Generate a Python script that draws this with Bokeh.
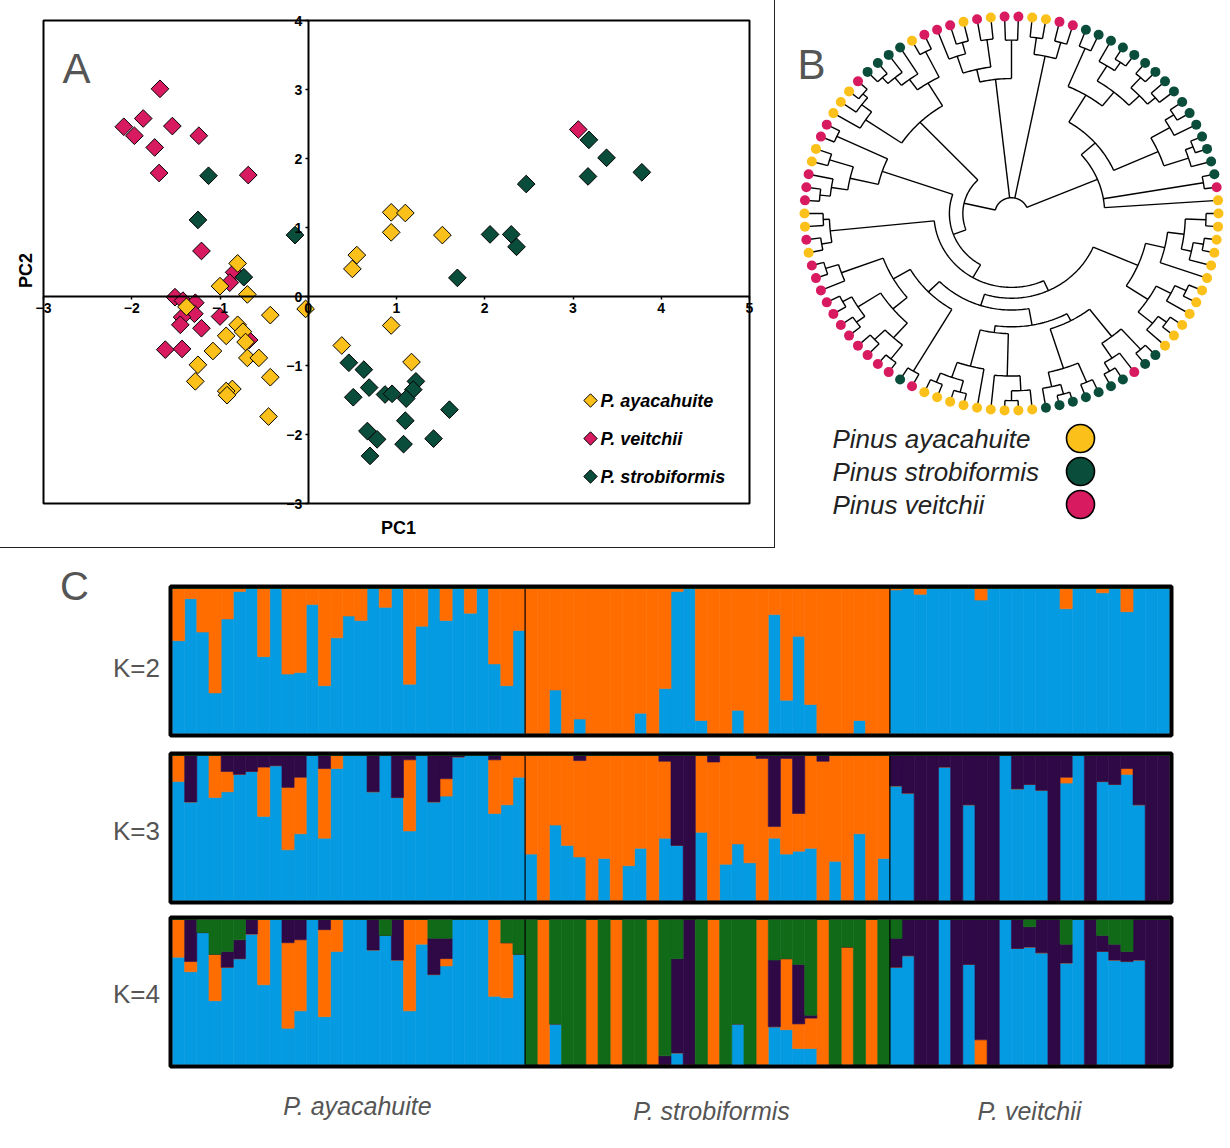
import numpy as np
from bokeh.plotting import figure
from bokeh.models import Range1d, LinearAxis, FixedTicker, Label, ColumnDataSource
from bokeh.layouts import column, row
from bokeh.embed import file_html
from bokeh.resources import INLINE

# ---------------- colours ----------------
YEL, PNK, DGR = "#FCC01A", "#D81B60", "#0B4D3B"
BLUE, ORNG, PURP, GRN = "#049BE3", "#FF6C00", "#2E0946", "#106A17"
GREY = "#555555"

# ---------------- panel A : PCA ----------------
SPECIES_A = ["P. ayacahuite", "P. veitchii", "P. strobiformis"]
AYA_X = [-0.80, -1.00, -0.69, -1.38, -0.43, -0.03, -0.80, -0.74, -0.93, -0.71, -1.08, -1.25, -0.69, -0.56, -0.43,
         -1.28, -0.86, -0.93, -0.92, -0.45, 0.94, 1.10, 0.94, 1.52, 0.55, 0.50, 0.94, 0.38, 1.17]
AYA_Y = [0.48, 0.15, 0.03, -0.15, -0.27, -0.18, -0.41, -0.51, -0.57, -0.66, -0.79, -0.99, -0.89, -0.89, -1.17,
         -1.23, -1.34, -1.37, -1.43, -1.74, 1.22, 1.21, 0.93, 0.89, 0.60, 0.40, -0.42, -0.71, -0.95]
VEI_X = [-1.68, -2.09, -1.87, -1.97, -1.54, -1.24, -1.74, -1.69, -0.68, -1.21, -0.84, -0.89, -1.51, -1.42, -1.28,
         -1.29, -1.43, -1.45, -1.00, -1.21, -0.67, -1.62, -1.43, 3.06]
VEI_Y = [3.01, 2.46, 2.58, 2.33, 2.47, 2.33, 2.16, 1.79, 1.76, 0.66, 0.35, 0.20, -0.01, -0.06, -0.09,
         -0.25, -0.30, -0.41, -0.29, -0.46, -0.63, -0.77, -0.76, 2.42]
STR_X = [-1.13, -1.25, -0.15, -0.73, 3.18, 3.38, 3.17, 3.78, 2.47, 2.06, 2.30, 2.36, 1.69, 0.46, 0.63,
         0.51, 0.69, 0.87, 0.95, 1.22, 1.19, 1.11, 1.60, 1.10, 0.67, 0.78, 1.42, 1.08, 0.70]
STR_Y = [1.75, 1.11, 0.89, 0.28, 2.27, 2.01, 1.74, 1.80, 1.63, 0.90, 0.90, 0.72, 0.27, -0.96, -1.06,
         -1.46, -1.32, -1.42, -1.41, -1.23, -1.35, -1.48, -1.64, -1.80, -1.95, -2.07, -2.06, -2.14, -2.31]
X_TICKS = [-3, -2, -1, 0, 1, 2, 3, 4, 5]
Y_TICKS = [-3, -2, -1, 0, 1, 2, 3, 4]

# ---------------- panel B : dendrogram ----------------
# species of leaves 1..94 in clockwise order (Y = ayacahuite, G = strobiformis, P = veitchii)
LEAF_SPECIES = ("YPPPYPYPPYYPP" "GGGGGGGGGGGGGGGG" "P" "YYYYYYYYYYYYY" "GGP" "GGGGGGG"
                "YYYYYYYYY" "PG" "PPPPPPPPPPP" "YPYYPPPYYPP" "YYYP" "GGGG")
# Newick topology; internal node labels = node radius
T1 = "(((3,(4,5)180)168,(6,7)178)150,(8,9)176)137"
T2 = "((10,11)180,(12,13)180)163"
RA = "((14,15)182,((16,(17,18)186)176,((19,20)186,(21,22)182)172)158)140"
RB = "(((23,24)186,25)176,((26,27)188,28)180)155"
RR = "((" + RA + "," + RB + ")108,(29,30)188,31)90"
BR = "((((32,33)188,((34,35)188,36)178)168,37)152,(((38,39)186,40)174,((41,42)186,43)176)158)133"
BG = "(((44,45)186,(46,(47,48)186)176)158,((49,50)186,((51,52)190,53)180)165)123"
BY = "(((54,(55,56)190)180,57)165,(58,((59,60)188,(61,62)186)176)160)122"
P2 = "(((65,66)188,(67,68)184)170,((69,70)186,(71,72)186)176)150"
P1 = "(73,(74,75)188)175"
PG = "((63,64)186,(" + P2 + "," + P1 + ")132)113"
LLB = "((76,77)186,(78,79)182)176"
LLA = "((((80,81)186,82)176,(83,84)184)160,(85,86)186)132"
TLA = "(87,(88,(89,90)188)182)170"
TLB = "((((91,92)186,93)178,94)168,(1,2)184)155"
TL = "(" + TLA + "," + TLB + ")128"
W = "((" + BG + "," + BY + ")115," + PG + ")98"
LEFT = "((((" + BR + "," + W + ")86," + LLB + ")75," + LLA + ")60," + TL + ")47"
TREE = "(" + LEFT + "," + T1 + "," + T2 + "," + RR + ")16"
SPECIES_B = ["Pinus ayacahuite", "Pinus strobiformis", "Pinus veitchii"]

# ---------------- panel C : STRUCTURE ----------------
K2_ORANGE_AYA = [0.36, 0.07, 0.30, 0.72, 0.21, 0.02, 0.00, 0.47, 0.00, 0.59, 0.58, 0.11, 0.67, 0.34, 0.19,
                 0.22, 0.00, 0.13, 0.00, 0.66, 0.26, 0.00, 0.22, 0.00, 0.17, 0.00, 0.52, 0.67, 0.29]
K2_ORANGE_STR = [1.00, 1.00, 0.70, 1.00, 0.90, 1.00, 1.00, 1.00, 1.00, 0.86, 1.00, 0.69, 0.02, 0.00, 0.91,
                 1.00, 1.00, 0.84, 1.00, 1.00, 0.18, 0.77, 0.33, 0.80, 1.00, 1.00, 1.00, 0.91, 1.00, 1.00]
K2_ORANGE_VEI = [0.01, 0.00, 0.04, 0.00, 0.00, 0.00, 0.00, 0.08, 0.00, 0.00, 0.00, 0.00, 0.00, 0.00, 0.14,
                 0.00, 0.00, 0.03, 0.00, 0.16, 0.00, 0.00, 0.00]

K3_ORANGE_AYA = [0.18, 0.00, 0.00, 0.29, 0.14, 0.00, 0.00, 0.34, 0.00, 0.43, 0.39, 0.00, 0.48, 0.09, 0.00,
                 0.00, 0.00, 0.00, 0.00, 0.49, 0.00, 0.00, 0.12, 0.00, 0.00, 0.00, 0.37, 0.34, 0.15]
K3_PURPLE_AYA = [0.00, 0.32, 0.00, 0.00, 0.11, 0.13, 0.11, 0.08, 0.07, 0.22, 0.15, 0.00, 0.09, 0.00, 0.00,
                 0.00, 0.25, 0.00, 0.29, 0.03, 0.00, 0.32, 0.16, 0.01, 0.00, 0.00, 0.03, 0.00, 0.00]
K3_ORANGE_STR = [0.68, 1.00, 0.48, 0.62, 0.665, 1.00, 0.71, 1.00, 0.76, 0.64, 1.00, 0.53, 0.00, 0.00, 0.53,
                 0.955, 0.75, 0.61, 0.74, 0.98, 0.08, 0.66, 0.26, 0.64, 0.96, 0.73, 1.00, 0.54, 1.00, 0.71]
K3_PURPLE_STR = [0.00, 0.00, 0.00, 0.00, 0.035, 0.00, 0.00, 0.00, 0.00, 0.00, 0.00, 0.04, 0.62, 1.00, 0.00,
                 0.045, 0.00, 0.00, 0.00, 0.02, 0.49, 0.02, 0.40, 0.00, 0.04, 0.00, 0.00, 0.00, 0.00, 0.00]
K3_ORANGE_VEI = [0.00, 0.00, 0.00, 0.00, 0.00, 0.00, 0.00, 0.00, 0.00, 0.00, 0.00, 0.00, 0.00, 0.00, 0.04,
                 0.00, 0.00, 0.00, 0.00, 0.04, 0.00, 0.00, 0.00]
K3_PURPLE_VEI = [0.21, 0.26, 1.00, 1.00, 0.08, 1.00, 0.34, 1.00, 1.00, 0.00, 0.23, 0.20, 0.24, 1.00, 0.15,
                 0.00, 1.00, 0.18, 0.20, 0.09, 0.34, 1.00, 1.00]

K4_ORANGE_AYA = [0.26, 0.07, 0.00, 0.32, 0.00, 0.00, 0.00, 0.45, 0.00, 0.59, 0.49, 0.00, 0.60, 0.22, 0.00,
                 0.00, 0.00, 0.00, 0.00, 0.63, 0.17, 0.00, 0.05, 0.00, 0.00, 0.00, 0.53, 0.38, 0.00]
K4_PURPLE_AYA = [0.00, 0.29, 0.00, 0.00, 0.11, 0.13, 0.10, 0.00, 0.00, 0.16, 0.14, 0.00, 0.07, 0.00, 0.00,
                 0.00, 0.21, 0.00, 0.28, 0.00, 0.00, 0.25, 0.14, 0.00, 0.00, 0.00, 0.00, 0.00, 0.00]
K4_GREEN_AYA = [0.00, 0.00, 0.09, 0.24, 0.22, 0.14, 0.00, 0.00, 0.00, 0.00, 0.00, 0.00, 0.00, 0.00, 0.00,
                0.00, 0.00, 0.11, 0.00, 0.00, 0.00, 0.13, 0.13, 0.00, 0.00, 0.00, 0.00, 0.16, 0.24]
K4_ORANGE_STR = [0.00, 1.00, 0.00, 0.00, 0.00, 1.00, 0.00, 1.00, 0.00, 0.00, 1.00, 0.00, 0.00, 0.00, 0.00,
                 1.00, 0.00, 0.00, 0.00, 1.00, 0.00, 0.49, 0.17, 0.21, 1.00, 0.00, 0.81, 0.00, 1.00, 0.00]
K4_PURPLE_STR = [0.00, 0.00, 0.00, 0.00, 0.00, 0.00, 0.00, 0.00, 0.00, 0.00, 0.00, 0.06, 0.65, 1.00, 0.00,
                 0.00, 0.00, 0.00, 0.00, 0.00, 0.46, 0.00, 0.41, 0.02, 0.00, 0.00, 0.00, 0.00, 0.00, 0.00]
K4_GREEN_STR = [1.00, 0.00, 0.72, 1.00, 1.00, 0.00, 1.00, 0.00, 1.00, 1.00, 0.00, 0.94, 0.27, 0.00, 1.00,
                0.00, 1.00, 0.72, 1.00, 0.00, 0.28, 0.27, 0.31, 0.66, 0.00, 1.00, 0.19, 1.00, 0.00, 1.00]
K4_ORANGE_VEI = [0.00, 0.00, 0.00, 0.00, 0.00, 0.00, 0.00, 0.17, 0.00, 0.00, 0.00, 0.00, 0.00, 0.00, 0.00,
                 0.00, 0.00, 0.00, 0.00, 0.00, 0.00, 0.00, 0.00]
K4_PURPLE_VEI = [0.20, 0.25, 1.00, 1.00, 0.00, 1.00, 0.31, 0.83, 1.00, 0.00, 0.20, 0.14, 0.23, 1.00, 0.13,
                 0.00, 1.00, 0.11, 0.11, 0.07, 0.28, 1.00, 1.00]
K4_GREEN_VEI = [0.13, 0.00, 0.00, 0.00, 0.00, 0.00, 0.00, 0.00, 0.00, 0.00, 0.00, 0.05, 0.00, 0.00, 0.17,
                0.00, 0.00, 0.11, 0.17, 0.22, 0.00, 0.00, 0.00]
GROUP_LABELS = ["P. ayacahuite", "P. strobiformis", "P. veitchii"]
K_LABELS = ["K=2", "K=3", "K=4"]

# =====================================================================
# Panel A  (frame = whole canvas; the PCA box is drawn at the axis limits)
# =====================================================================
WA, HA = 775, 548
XPU, YPU = 706.0 / 8.0, 483.0 / 7.0       # pixels per PC unit
X0, X1, Y0, Y1 = X_TICKS[0], X_TICKS[-1], Y_TICKS[0], Y_TICKS[-1]
pA = figure(width=WA, height=HA, output_backend="svg", toolbar_location=None,
            x_range=Range1d(X0 - 43 / XPU, X1 + (WA - 749) / XPU),
            y_range=Range1d(Y0 - (HA - 503) / YPU, Y1 + 20 / YPU),
            x_axis_location=None, y_axis_location=None, min_border=0)
pA.grid.visible = False
pA.outline_line_color = None
pA.styles = {"border-right": "1px solid #222", "border-bottom": "1px solid #222"}

pA.quad(left=[X0], right=[X1], bottom=[Y0], top=[Y1], fill_color=None, line_color="black", line_width=2)

xax = LinearAxis(fixed_location=0, ticker=FixedTicker(ticks=X_TICKS), bounds=(X0, X1))
yax = LinearAxis(fixed_location=0, ticker=FixedTicker(ticks=Y_TICKS), bounds=(Y0, Y1))
for ax in (xax, yax):
    ax.axis_line_width = 2
    ax.axis_line_color = "black"
    ax.major_tick_in = 0
    ax.major_tick_out = 3
    ax.major_tick_line_width = 1.5
    ax.minor_tick_line_color = None
    ax.major_label_text_font = "Liberation Sans"
    ax.major_label_text_font_style = "bold"
    ax.major_label_text_font_size = "14px"
    ax.major_label_text_color = "black"
    ax.major_label_standoff = 3
pA.add_layout(xax, "below")
pA.add_layout(yax, "left")

for xs, ys, col in ((VEI_X, VEI_Y, PNK), (AYA_X, AYA_Y, YEL), (STR_X, STR_Y, DGR)):
    pA.scatter(xs, ys, marker="square", angle=np.pi / 4, size=12.5,
               fill_color=col, line_color="black", line_width=1)


def ax_x(px):
    return X0 + (px - 43) / XPU


def ax_y(py):
    return Y1 - (py - 20) / YPU


leg_y = [ax_y(400), ax_y(438), ax_y(476)]
leg_cols = [YEL, PNK, DGR]
pA.scatter([ax_x(590)] * 3, leg_y, marker="square", angle=np.pi / 4, size=9.5,
           fill_color=leg_cols, line_color="black", line_width=1)
for lab, yy in zip(SPECIES_A, leg_y):
    pA.add_layout(Label(x=ax_x(600), y=yy, text=lab, text_font="Liberation Sans", text_font_style="bold italic",
                        text_font_size="18px", text_baseline="middle", text_align="left", text_color="black"))

pA.add_layout(Label(x=ax_x(76), y=ax_y(68), text="A", text_font="Liberation Sans", text_font_size="42px",
                    text_color=GREY, text_align="center", text_baseline="middle"))
pA.add_layout(Label(x=ax_x(398), y=ax_y(527), text="PC1", text_font="Liberation Sans", text_font_style="bold",
                    text_font_size="18px", text_align="center", text_baseline="middle", text_color="black"))
pA.add_layout(Label(x=ax_x(25), y=ax_y(270), text="PC2", text_font="Liberation Sans", text_font_style="bold",
                    text_font_size="18px", text_align="center", text_baseline="middle", text_color="black",
                    angle=np.pi / 2))

# =====================================================================
# Panel B : circular dendrogram
# =====================================================================
def parse_newick(s):
    pos = 0

    def number():
        nonlocal pos
        st = pos
        while pos < len(s) and (s[pos].isdigit() or s[pos] == "."):
            pos += 1
        return s[st:pos]

    def node():
        nonlocal pos
        if s[pos] == "(":
            pos += 1
            kids = [node()]
            while s[pos] == ",":
                pos += 1
                kids.append(node())
            pos += 1  # ')'
            return {"r": float(number()), "kids": kids}
        return {"leaf": int(number())}

    return node()


NLEAF = len(LEAF_SPECIES)
STEP = 360.0 / NLEAF
LEAF_R = 200.0


def leaf_angle(i):
    a = 90.0 - (i - 8.5) * STEP
    if i < 32:
        a -= 360.0
    return a


def layout(nd):
    if "leaf" in nd:
        nd["a"] = leaf_angle(nd["leaf"])
        nd["rad"] = LEAF_R
        return
    for k in nd["kids"]:
        layout(k)
    nd["a"] = 0.5 * (nd["kids"][0]["a"] + nd["kids"][-1]["a"])
    nd["rad"] = nd["r"]


seg_xs, seg_ys = [], []


def collect(nd):
    if "leaf" in nd:
        return
    angs = [k["a"] for k in nd["kids"]]
    a0, a1 = min(angs), max(angs)
    t = np.radians(np.linspace(a0, a1, max(3, int(abs(a1 - a0)) + 2)))
    seg_xs.append(list(nd["rad"] * np.cos(t)))
    seg_ys.append(list(nd["rad"] * np.sin(t)))
    for k in nd["kids"]:
        ta = np.radians(k["a"])
        seg_xs.append([nd["rad"] * np.cos(ta), k["rad"] * np.cos(ta)])
        seg_ys.append([nd["rad"] * np.sin(ta), k["rad"] * np.sin(ta)])
        collect(k)


root = parse_newick(TREE)
layout(root)
collect(root)

SX, SY = 1.035, 0.985   # px per unit in x and y (slightly elliptic tree)
WB, HB = 451, 549
CX, CY = 236, 213
pB = figure(width=WB, height=HB, output_backend="svg", toolbar_location=None,
            x_range=Range1d(-CX / SX, (WB - CX) / SX), y_range=Range1d(-(HB - CY) / SY, CY / SY),
            x_axis_location=None, y_axis_location=None, min_border=0)
pB.grid.visible = False
pB.outline_line_color = None
pB.multi_line(seg_xs, seg_ys, line_color="black", line_width=1.4)

col_of = {"Y": YEL, "G": DGR, "P": PNK}
lx = [LEAF_R * np.cos(np.radians(leaf_angle(i))) for i in range(1, NLEAF + 1)]
ly = [LEAF_R * np.sin(np.radians(leaf_angle(i))) for i in range(1, NLEAF + 1)]
lc = [col_of[c] for c in LEAF_SPECIES]
pB.scatter(lx, ly, size=10, fill_color=lc, line_color=None)


def bx(px):
    return (px - 776 - CX) / SX


def by(py):
    return (CY - py) / SY


pB.add_layout(Label(x=bx(812), y=by(64), text="B", text_font="Liberation Sans",
                    text_font_size="42px", text_color=GREY, text_align="center", text_baseline="middle"))
legB_y = [by(438), by(471), by(504)]
legB_cols = [YEL, DGR, PNK]
pB.scatter([bx(1081)] * 3, legB_y, size=28, fill_color=legB_cols, line_color="black", line_width=1.6)
for lab, yy in zip(SPECIES_B, legB_y):
    pB.add_layout(Label(x=bx(833), y=yy, text=lab, text_font="Liberation Sans", text_font_style="italic",
                        text_font_size="26px", text_color="#222222", text_align="left", text_baseline="middle"))

# =====================================================================
# Panel C : STRUCTURE bar plots (frame = whole canvas; boxed area drawn)
# =====================================================================
N_AYA, N_STR, N_VEI = len(K2_ORANGE_AYA), len(K2_ORANGE_STR), len(K2_ORANGE_VEI)
NTOT = N_AYA + N_STR + N_VEI
WC = 1226
BOX_L, BOX_R = 170, 1171                  # page x of the box lines
PXU = (BOX_R - BOX_L - 4) / NTOT           # px per individual (inside the 4px border)
PYU = 145.0                                # px per unit of ancestry
PADX = 2.0 / PXU
PADY = 2.0 / PYU


def structure_fig(orange, purple, green, fig_top, fig_h, box_top):
    orange = np.array(orange, float)
    purple = np.array(purple, float)
    green = np.array(green, float)
    blue = np.clip(1.0 - orange - purple - green, 0, 1)
    src = ColumnDataSource(dict(x=np.arange(NTOT) + 0.5, blue=blue, orange=orange, purple=purple, green=green))
    top_val = 1 + PADY + (box_top - fig_top) / PYU
    bot_val = top_val - fig_h / PYU
    left_val = -PADX - BOX_L / PXU
    right_val = left_val + WC / PXU
    p = figure(width=WC, height=fig_h, output_backend="svg", toolbar_location=None,
               x_range=Range1d(left_val, right_val), y_range=Range1d(bot_val, top_val),
               x_axis_location=None, y_axis_location=None, min_border=0)
    p.grid.visible = False
    p.outline_line_color = None
    p.vbar_stack(["blue", "orange", "purple", "green"], x="x", width=1.0, source=src,
                 fill_color=[BLUE, ORNG, PURP, GRN], line_color=[BLUE, ORNG, PURP, GRN], line_width=0.6)
    p.segment(x0=[N_AYA, N_AYA + N_STR], x1=[N_AYA, N_AYA + N_STR], y0=[0, 0], y1=[1, 1],
              line_color="black", line_width=1.2)
    p.quad(left=[-PADX], right=[NTOT + PADX], bottom=[-PADY], top=[1 + PADY],
           fill_color=None, line_color="black", line_width=4)

    def fx(px):
        return left_val + px / PXU

    def fy(py):
        return top_val - (py - fig_top) / PYU

    return p, fx, fy


pC2, fx2, fy2 = structure_fig(K2_ORANGE_AYA + K2_ORANGE_STR + K2_ORANGE_VEI, [0] * NTOT, [0] * NTOT,
                              549, 195, 586)
pC3, fx3, fy3 = structure_fig(K3_ORANGE_AYA + K3_ORANGE_STR + K3_ORANGE_VEI,
                              K3_PURPLE_AYA + K3_PURPLE_STR + K3_PURPLE_VEI, [0] * NTOT, 744, 165, 753)
pC4, fx4, fy4 = structure_fig(K4_ORANGE_AYA + K4_ORANGE_STR + K4_ORANGE_VEI,
                              K4_PURPLE_AYA + K4_PURPLE_STR + K4_PURPLE_VEI,
                              K4_GREEN_AYA + K4_GREEN_STR + K4_GREEN_VEI, 909, 237, 917)

FONT_C = "Liberation Sans"
for (p, fx, fy), lab, py in (((pC2, fx2, fy2), K_LABELS[0], 667), ((pC3, fx3, fy3), K_LABELS[1], 830),
                             ((pC4, fx4, fy4), K_LABELS[2], 993)):
    p.add_layout(Label(x=fx(136), y=fy(py), text=lab, text_font=FONT_C,
                       text_font_size="26px", text_color=GREY, text_align="center", text_baseline="middle"))
pC2.add_layout(Label(x=fx2(74), y=fy2(585), text="C", text_font="Liberation Sans",
                     text_font_size="40px", text_color=GREY, text_align="center", text_baseline="middle"))
for lab, px, py in zip(GROUP_LABELS, (357, 711, 1029), (1105, 1110, 1110)):
    pC4.add_layout(Label(x=fx4(px), y=fy4(py), text=lab, text_font=FONT_C,
                         text_font_style="italic", text_font_size="25px",
                         text_color=GREY, text_align="center", text_baseline="middle"))

layout_all = column(row(pA, pB), pC2, pC3, pC4)
open("out.html", "w").write(file_html(layout_all, INLINE))
